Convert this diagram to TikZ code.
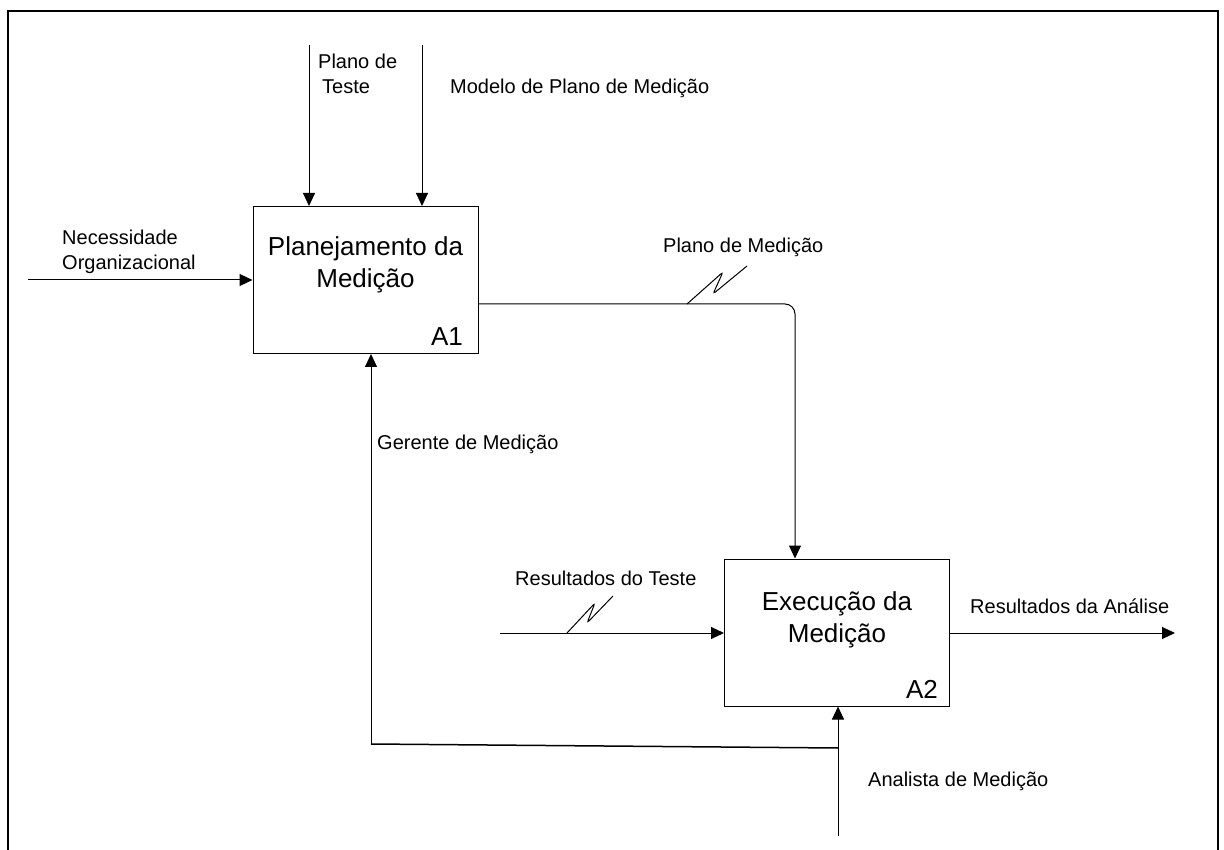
\documentclass[tikz,border=0pt]{standalone}
\usepackage{fontspec}
\setmainfont{Liberation Sans}
\usetikzlibrary{arrows.meta}
\begin{document}
\begin{tikzpicture}[x=1pt,y=-1pt,
  conn/.style={line width=1pt,-{Triangle[length=13pt,width=12pt]}},
  box/.style={draw,line width=1pt,minimum width=225pt,minimum height=147pt,inner sep=0pt},
  lbl/.style={anchor=base west,inner sep=0pt,font=\fontsize{20}{25}\selectfont,align=left},
  title/.style={anchor=base,inner sep=0pt,font=\fontsize{26}{32}\selectfont,align=center},
  code/.style={anchor=base east,inner sep=0pt,font=\fontsize{26}{32}\selectfont},
  squig/.style={line width=1pt,rounded corners=3pt}]
\useasboundingbox (0,0) rectangle (1224,850);
% outer frame, open at the bottom
\draw[line width=2pt] (8,851) -- (8,11) -- (1218,11) -- (1218,851);

% activity boxes (multi-line texts are placed by their last baseline)
\node[box] (a1) at (365.5,280) {};
\node[box] (a2) at (837,632.5) {};
\node[title] (t1) at (365.5,288) {Planejamento da\\Medição};
\node[title] (t2) at (837,642) {Execução da\\Medição};
\node[code] (c1) at (463,346) {A1};
\node[code] (c2) at (938,698) {A2};

% controls of A1
\coordinate (ctA) at (309,45);
\coordinate (ctB) at (422,45);
\draw[conn] (ctA) -- (ctA |- a1.north);
\draw[conn] (ctB) -- (ctB |- a1.north);
\node[lbl] (lctA) at (318,94) {Plano de\\\hspace{4pt}Teste};
\node[lbl] (lctB) at (450,94) {Modelo de Plano de Medição};

% input of A1
\coordinate (inA) at (28,280);
\draw[conn] (inA) -- (inA -| a1.west);
\node[lbl] (linA) at (62,270) {Necessidade\\Organizacional};

% output of A1 feeding A2
\coordinate (bend) at (795,304);
\draw[conn,rounded corners=10pt] (a1.east |- bend) -- (bend) -- (bend |- a2.north);
\draw[squig] (687,304) -- (723,272) -- (713,294) -- (747,266);
\node[lbl] (lout1) at (663,253) {Plano de Medição};

% input of A2
\coordinate (inB) at (500,633);
\draw[conn] (inB) -- (inB -| a2.west);
\draw[squig] (567,633) -- (595,603) -- (587,623) -- (613,596);
\node[lbl] (linB) at (515,585) {Resultados do Teste};

% output of A2
\coordinate (outB) at (1175,633);
\draw[conn] (a2.east |- outB) -- (outB);
\node[lbl] (loutB) at (970,613) {Resultados da Análise};

% mechanisms
\coordinate (mech) at (838,836);
\coordinate (split) at (838,748);
\coordinate (turn) at (371,744);
\draw[conn] (mech) -- (mech |- a2.south);
\draw[line width=1.5pt] (split) -- (turn);
\draw[conn] (turn) -- (turn |- a1.south);
\node[lbl] (lmA) at (377,449) {Gerente de Medição};
\node[lbl] (lmB) at (868,786) {Analista de Medição};
\end{tikzpicture}
\end{document}
